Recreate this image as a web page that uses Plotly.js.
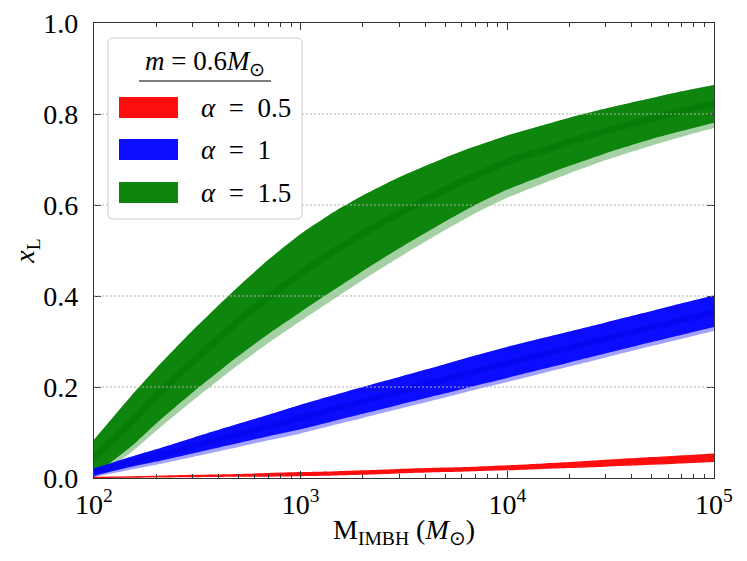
<!DOCTYPE html>
<html>
<head>
<meta charset="utf-8">
<script src="https://cdn.plot.ly/plotly-3.0.1.min.js"></script>
<style>html,body{margin:0;padding:0;background:#fff;}#chart{width:747px;height:561px;}</style>
</head>
<body>
<div id="chart"></div>
<script>
// ---- data ----
const massIMBH = [100, 150, 200, 300, 500, 700, 1000, 1500, 2000, 3000, 5000, 7000, 10000, 15000, 20000, 30000, 50000, 70000, 100000];

// alpha = 1.5 (green)
const greenUpper      = [0.084, 0.178, 0.241, 0.324, 0.421, 0.480, 0.536, 0.589, 0.621, 0.661, 0.704, 0.729, 0.753, 0.776, 0.792, 0.812, 0.835, 0.850, 0.864];
const greenLowerSolid = [0.006, 0.068, 0.120, 0.188, 0.268, 0.317, 0.365, 0.418, 0.455, 0.505, 0.564, 0.600, 0.634, 0.665, 0.686, 0.714, 0.745, 0.763, 0.781];
const greenLowerLight = [0.000, 0.055, 0.104, 0.170, 0.249, 0.297, 0.345, 0.398, 0.435, 0.485, 0.545, 0.582, 0.616, 0.648, 0.670, 0.699, 0.731, 0.750, 0.769];
const greenCenter     = [0.045, 0.120, 0.180, 0.255, 0.345, 0.398, 0.450, 0.503, 0.537, 0.582, 0.634, 0.665, 0.695, 0.720, 0.739, 0.763, 0.790, 0.807, 0.824];

// alpha = 1 (blue)
const blueUpper      = [0.021, 0.046, 0.063, 0.088, 0.119, 0.139, 0.161, 0.184, 0.200, 0.222, 0.250, 0.269, 0.288, 0.308, 0.322, 0.342, 0.367, 0.384, 0.401];
const blueLowerSolid = [0.005, 0.024, 0.036, 0.054, 0.077, 0.092, 0.107, 0.127, 0.141, 0.161, 0.186, 0.203, 0.220, 0.240, 0.254, 0.274, 0.299, 0.315, 0.332];
const blueLowerLight = [0.002, 0.018, 0.029, 0.046, 0.068, 0.083, 0.098, 0.118, 0.132, 0.152, 0.177, 0.194, 0.211, 0.231, 0.245, 0.265, 0.290, 0.306, 0.323];
const blueCenter     = [0.014, 0.034, 0.048, 0.069, 0.096, 0.114, 0.132, 0.153, 0.168, 0.190, 0.216, 0.234, 0.252, 0.272, 0.286, 0.306, 0.331, 0.347, 0.364];

// alpha = 0.5 (red)
const redUpper = [0.003, 0.004, 0.005, 0.007, 0.009, 0.011, 0.013, 0.015, 0.017, 0.020, 0.023, 0.025, 0.028, 0.032, 0.035, 0.040, 0.046, 0.050, 0.054];
const redLower = [0.000, 0.0005, 0.001, 0.0015, 0.0025, 0.003, 0.004, 0.0055, 0.007, 0.010, 0.013, 0.015, 0.017, 0.020, 0.022, 0.025, 0.029, 0.032, 0.035];

const xTickVals = [100, 1000, 10000, 100000];
const xTickText = ['10<sup>2</sup>', '10<sup>3</sup>', '10<sup>4</sup>', '10<sup>5</sup>'];
const xMinorVals = [200,300,400,500,600,700,800,900,2000,3000,4000,5000,6000,7000,8000,9000,20000,30000,40000,50000,60000,70000,80000,90000];
const yTickVals = [0, 0.2, 0.4, 0.6, 0.8, 1.0];

const legendTitle = '<i>m</i> = 0.6<i>M</i><sub>⊙</sub>';
const legendLabels = ['<i>α</i>\u00A0\u00A0=\u00A0\u00A00.5', '<i>α</i>\u00A0\u00A0=\u00A0\u00A01', '<i>α</i>\u00A0\u00A0=\u00A0\u00A01.5'];
const legendColors = ['rgb(254,14,14)', 'rgb(12,12,254)', 'rgb(14,134,14)'];

// ---- traces ----
const lineShape = {width: 0, shape: 'spline', smoothing: 0.6};
function band(lo, hi, color) {
  return [
    {x: massIMBH, y: lo, mode: 'lines', line: lineShape, hoverinfo: 'skip', showlegend: false},
    {x: massIMBH, y: hi, mode: 'lines', fill: 'tonexty', fillcolor: color, line: lineShape, hoverinfo: 'skip', showlegend: false}
  ];
}
function centerLine(y, color, w) {
  return {x: massIMBH, y: y, mode: 'lines', line: {color: color, width: w, shape: 'spline', smoothing: 0.6}, hoverinfo: 'skip', showlegend: false};
}

const traces = [].concat(
  band(greenLowerLight, greenUpper, 'rgba(0,128,0,0.36)'),
  band(greenLowerSolid, greenUpper, 'rgba(14,134,14,1)'),
  [centerLine(greenCenter, 'rgba(0,118,0,0.55)', 7)],
  band(blueLowerLight, blueUpper, 'rgba(0,0,255,0.36)'),
  band(blueLowerSolid, blueUpper, 'rgba(12,12,254,1)'),
  [centerLine(blueCenter, 'rgba(0,0,225,0.4)', 6)],
  band(redLower, redUpper, 'rgba(254,14,14,1)')
);

// ---- layout helpers (pixel -> paper) ----
const L = 94, R = 714, T = 23, B = 478;
const px = v => (v - L) / (R - L);
const py = v => (B - v) / (B - T);

const shapes = [];
const gridStyle = {color: '#b0b0b0', width: 1, dash: '2px,2px'};
[3, 4].forEach(d => shapes.push({type: 'line', xref: 'x', yref: 'paper', x0: d, x1: d, y0: 0, y1: 1, line: gridStyle, layer: 'above'}));
[0.2, 0.4, 0.6, 0.8].forEach(v => shapes.push({type: 'line', xref: 'paper', yref: 'y', x0: 0, x1: 1, y0: v, y1: v, line: gridStyle, layer: 'above'}));

// legend box with rounded corners
(function () {
  const x0 = 108, x1 = 302, y0 = 38, y1 = 219, r = 5;
  const rx = r / (R - L), ry = r / (B - T);
  const a = px(x0), b = px(x1), top = py(y0), bot = py(y1);
  const path = `M ${a + rx},${top} L ${b - rx},${top} Q ${b},${top} ${b},${top - ry} L ${b},${bot + ry} Q ${b},${bot} ${b - rx},${bot} L ${a + rx},${bot} Q ${a},${bot} ${a},${bot + ry} L ${a},${top - ry} Q ${a},${top} ${a + rx},${top} Z`;
  shapes.push({type: 'path', xref: 'paper', yref: 'paper', path: path, fillcolor: 'rgba(255,255,255,0.9)', line: {color: '#cccccc', width: 1}, layer: 'above'});
})();
shapes.push({type: 'line', xref: 'paper', yref: 'paper', x0: px(139), x1: px(271), y0: py(81), y1: py(81), line: {color: '#555555', width: 1.5}, layer: 'above'});
const patchY = [[97, 118], [139, 160], [182, 203]];
patchY.forEach((p, i) => shapes.push({type: 'rect', xref: 'paper', yref: 'paper', x0: px(119), x1: px(178), y0: py(p[1]), y1: py(p[0]), fillcolor: legendColors[i], line: {width: 0}, layer: 'above'}));

const fam = 'Liberation Serif, Times New Roman, serif';
const font = {family: fam, size: 28, color: '#000'};
const legFont = {family: fam, size: 27, color: '#000'};
const annotations = [
  {xref: 'paper', yref: 'paper', x: px(205), y: py(63), text: legendTitle, showarrow: false, xanchor: 'center', yanchor: 'middle', font: legFont}
];
patchY.forEach((p, i) => annotations.push({xref: 'paper', yref: 'paper', x: px(199), y: py((p[0] + p[1]) / 2), text: legendLabels[i], showarrow: false, xanchor: 'left', yanchor: 'middle', font: legFont}));

const layout = {
  width: 747, height: 561,
  margin: {l: L, r: 747 - R, t: T, b: 561 - B, pad: 0},
  paper_bgcolor: '#fff', plot_bgcolor: '#fff',
  font: font,
  showlegend: false,
  xaxis: {
    type: 'log', range: [2, 5],
    tickvals: xTickVals, ticktext: xTickText, tickfont: font,
    ticks: 'inside', ticklen: 7, tickwidth: 1, tickcolor: '#333',
    minor: {tickvals: xMinorVals, ticks: 'inside', ticklen: 4, tickwidth: 1, tickcolor: '#333'},
    showgrid: false, zeroline: false,
    showline: true, linecolor: '#333', linewidth: 1.2, mirror: 'ticks',
    ticklabelstandoff: 1,
    title: {text: 'M<sub>IMBH</sub> (<i>M</i><sub>⊙</sub>)', font: font, standoff: 0}
  },
  yaxis: {
    range: [0, 1],
    tickvals: yTickVals, tickformat: '.1f', tickfont: font,
    ticks: 'inside', ticklen: 7, tickwidth: 1, tickcolor: '#333',
    showgrid: false, zeroline: false,
    showline: true, linecolor: '#333', linewidth: 1.2, mirror: 'ticks',
    ticklabelstandoff: 9,
    title: {text: '<i>x</i><sub>L</sub>', font: font, standoff: 0}
  },
  shapes: shapes,
  annotations: annotations
};

Plotly.newPlot('chart', traces, layout, {staticPlot: true, displayModeBar: false});
</script>
</body>
</html>
